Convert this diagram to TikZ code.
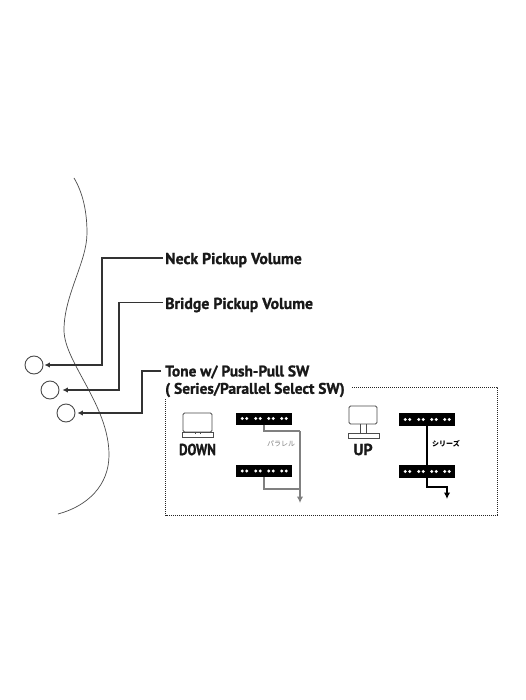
\documentclass[tikz,border=0pt]{standalone}
\usepackage{fontspec}
\setmainfont{PT Sans}[BoldFeatures={FakeBold=1.2}]
\newfontfamily\cjk{Noto Sans CJK JP}
\newfontfamily\narrowlbl{PT Sans Bold}[FakeStretch=0.82,FakeBold=1.2]
\usetikzlibrary{arrows.meta,calc}
\tikzset{
  lbl/.style={inner sep=0pt,anchor=west,font=\bfseries\fontsize{15.8}{15.8}\selectfont,text=black!90},
  lblsm/.style={inner sep=0pt,anchor=west,font=\bfseries\fontsize{15.35}{15.35}\selectfont,text=black!90},
  swlbl/.style={inner sep=0pt,font=\bfseries\fontsize{16}{16}\selectfont,text=black!90},
  ctl/.style={draw=black!70,circle,line width=0.9pt,minimum size=18pt,inner sep=0pt},
  lead/.style={draw=black!80,line width=1.2pt,-{Latex[length=5.5pt,width=5.5pt]}},
  pickup/.style={fill=black,draw=none,minimum width=56pt,minimum height=12pt,inner sep=0pt},
  swpart/.style={draw=black!70,line width=0.8pt,fill=white,inner sep=0pt},
  greywire/.style={draw=black!50,line width=1.3pt},
  blackwire/.style={draw=black,line width=1.3pt},
}
\newcommand{\pickupdots}[1]{%
  \foreach \dx in {-19.5,-6,7,20}{
    \fill[white] ($(#1)+(\dx-2.3,0)$) circle (1.6pt);
    \fill[white] ($(#1)+(\dx+2.3,0)$) circle (1.6pt);
  }}
\begin{document}
\begin{tikzpicture}[x=1pt,y=-1pt]
\useasboundingbox (0,0) rectangle (525,700);
\fill[white] (0,0) rectangle (525,700);
% body outline
\draw[black!70,line width=0.7pt] (74,178) .. controls (83,193) and (87,212) .. (87,233)
  .. controls (87,262) and (64,295) .. (64,330)
  .. controls (64,362) and (109,405) .. (109,455)
  .. controls (109,485) and (88,506) .. (58,514);
% controls
\node[ctl] (c1) at (34,365) {};
\node[ctl] (c2) at (50,390) {};
\node[ctl] (c3) at (66,413) {};
% labels
\node[lbl] (neck) at (165,260) {Neck Pickup Volume};
\node[lbl] (bridge) at (165,305) {Bridge Pickup Volume};
\node[lblsm] (tone) at (165,372) {Tone w/ Push-Pull SW};
\node[lblsm] (sel) at (165,390) {( Series/Parallel Select SW)};
% leaders
\coordinate (n0) at ($(neck.west)+(-2,-2)$);
\coordinate (b0) at ($(bridge.west)+(-2,-2.5)$);
\coordinate (t0) at ($(tone.west)+(-4,-1)$);
\draw[lead,shorten >=1pt] (n0) -- ++(-61,0) |- (c1.east);
\draw[lead,shorten >=3pt] (b0) -- ++(-44,0) |- (c2.east);
\draw[lead,shorten >=2pt] (t0) -- ++(-19,0) |- (c3.east);
% dotted frame
\coordinate (f1) at (352,387);
\coordinate (f2) at (497,515);
\coordinate (f3) at (165.5,398);
\draw[black!85,line width=1pt,densely dotted] (f1) -- (f1 -| f2) -- (f2) -- (f2 -| f3) -- (f3);
% DOWN switch
\node[swpart,rounded corners=1.5pt,minimum width=29pt,minimum height=19pt] (dbody) at (197.5,422.5) {};
\node[swpart,minimum width=31pt,minimum height=5pt] (dbase) at (197.5,434.5) {};
\draw[black!70,line width=0.7pt] (195,432) -- (195,434) (200,432) -- (200,434);
\node[swlbl,font=\narrowlbl\fontsize{16}{16}\selectfont] (dlabel) at (197.5,449.5) {DOWN};
% parallel pickups
\node[pickup] (p1) at (264,418.5) {};
\node[pickup] (p2) at (264,471) {};
\pickupdots{p1}\pickupdots{p2}
\coordinate (pj1) at (300,431);
\coordinate (pj2) at (300,489);
\coordinate (pend) at (300,503);
\draw[greywire] (p1.south) -- (p1.south |- pj1) -- (pj1);
\draw[greywire] (p2.south) -- (p2.south |- pj2) -- (pj2);
\draw[greywire,-{Latex[length=6.5pt,width=6.5pt]}] (pj1) -- (pend);
\node[inner sep=0pt,text=black!50,font=\cjk\fontsize{7}{7}\selectfont] (plabel) at (281,444) {パラレル};
% UP switch
\node[swpart,rounded corners=1.5pt,minimum width=28pt,minimum height=18pt] (ubody) at (363,415) {};
\node[swpart,minimum width=31pt,minimum height=5pt] (ubase) at (363.5,435.5) {};
\draw[black!70,line width=0.7pt] (360.5,424) -- (360.5,433) (366,424) -- (366,433);
\node[swlbl] (ulabel) at (363,449.5) {UP};
% series pickups
\node[pickup,minimum height=13pt] (s1) at (427,419.5) {};
\node[pickup,minimum height=13pt] (s2) at (427,471.5) {};
\pickupdots{s1}\pickupdots{s2}
\coordinate (sj) at (447,487);
\coordinate (send) at (447,499);
\draw[blackwire] (s1.south) -- (s2.north);
\draw[blackwire,-{Latex[length=6.5pt,width=6.5pt]}] (s2.south) -- (s2.south |- sj) -- (sj) -- (send);
\node[inner sep=0pt,text=black,font=\cjk\bfseries\fontsize{7}{7}\selectfont] (slabel) at (446,444) {シリーズ};
\end{tikzpicture}
\end{document}
